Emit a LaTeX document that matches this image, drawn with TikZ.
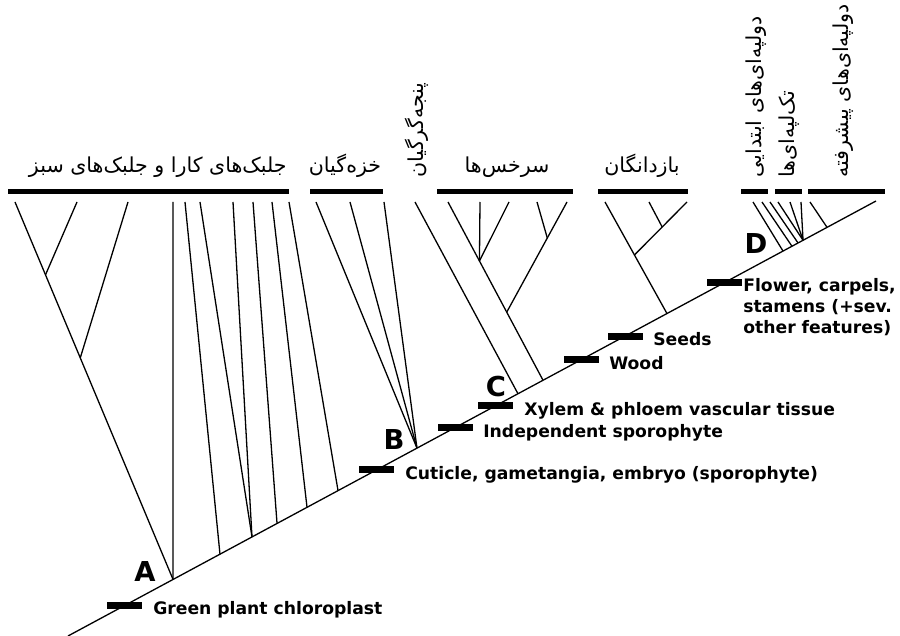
\documentclass[tikz,border=0pt]{standalone}
\usepackage{fontspec}
\setmainfont{DejaVu Sans}
\newfontfamily\farsi[Script=Arabic]{DejaVu Sans}
\TeXXeTstate=1
\usetikzlibrary{positioning}

\begin{document}
\begin{tikzpicture}[x=0.5pt, y=-0.5pt,
    branch/.style={line width=0.65pt},
    cladebar/.style={fill=black, inner sep=0pt, minimum height=2.5pt},
    traitbar/.style={fill=black, inner sep=0pt, minimum width=17.5pt, minimum height=3.5pt},
    trait/.style={font=\bfseries\fontsize{8.6}{10.5}\selectfont, inner sep=0pt,
                  anchor=base west, align=left},
    cladeltr/.style={font=\bfseries\fontsize{13.7}{14}\selectfont, inner sep=0pt},
    fa/.style={font=\farsi\fontsize{10.3}{10.3}\selectfont, inner sep=0pt, anchor=base},
    favert/.style={fa, rotate=90, anchor=base west}
  ]
  \useasboundingbox (0,0) rectangle (900,636);

  % ===== Trunk with clade bases and trait marks =====
  \coordinate (root) at (68,636);
  \coordinate (apex) at (876,201);
  \draw[branch] (root) -- (apex)
    coordinate[pos=0.0705] (chl) coordinate[pos=0.1300] (A)
    coordinate[pos=0.1881] (k1)  coordinate[pos=0.2277] (k2)
    coordinate[pos=0.2587] (k3)  coordinate[pos=0.2958] (k4)
    coordinate[pos=0.3342] (k5)  coordinate[pos=0.3824] (cut)
    coordinate[pos=0.4319] (B)   coordinate[pos=0.4790] (ind)
    coordinate[pos=0.5297] (xyl) coordinate[pos=0.5569] (C)
    coordinate[pos=0.5879] (fern) coordinate[pos=0.6349] (wod)
    coordinate[pos=0.6894] (sed) coordinate[pos=0.7413] (gym)
    coordinate[pos=0.8119] (flw) coordinate[pos=0.8849] (m1)
    coordinate[pos=0.8960] (m2)  coordinate[pos=0.9035] (m3)
    coordinate[pos=0.9097] (D)   coordinate[pos=0.9394] (eu);

  % ===== Tips of the branches =====
  \foreach \n/\x in {g1/15, g2/77, g3/128, g4/173, c1/185, c2/200, c3/233, c4/253,
                     c5/272, c6/289, b1/316, b2/350, b3/384, lyc/415, p1/448, p2/480,
                     p3/509, p4/537, p5/567, s1/605, s2/649, s3/687, e1/753, e2/762,
                     e3/770, e4/778, e5/790, e6/801, e7/810}
    \coordinate (\n) at (\x,202);

  % green algae
  \draw[branch] (A) -- (g1) coordinate[pos=0.587] (a1) coordinate[pos=0.807] (a2);
  \draw[branch] (a2) -- (g2);
  \draw[branch] (a1) -- (g3);
  \draw[branch] (A) -- (g4);
  \foreach \k/\t in {k1/c1, k2/c2, k2/c3, k3/c4, k4/c5, k5/c6}
    \draw[branch] (\k) -- (\t);

  % mosses and club mosses
  \foreach \t in {b1, b2, b3}
    \draw[branch] (B) -- (\t);
  \draw[branch] (C) -- (lyc);

  % ferns
  \draw[branch] (fern) -- (p1) coordinate[pos=0.382] (f1) coordinate[pos=0.669] (f2);
  \draw[branch] (f2) -- (p2);
  \draw[branch] (f2) -- (p3);
  \draw[branch] (f1) -- (p5) coordinate[pos=0.673] (f3);
  \draw[branch] (f3) -- (p4);

  % gymnosperms
  \draw[branch] (gym) -- (s1) coordinate[pos=0.525] (h1);
  \draw[branch] (h1) -- (s3) coordinate[pos=0.528] (h2);
  \draw[branch] (h2) -- (s2);

  % flowering plants
  \draw[branch] (m1) -- (e1);
  \draw[branch] (m2) -- (e2);
  \draw[branch] (m3) -- (e3);
  \foreach \t in {e4, e5, e6}
    \draw[branch] (D) -- (\t);
  \draw[branch] (eu) -- (e7);

  % ===== Group bars and names =====
  \node[cladebar, minimum width=140.5pt] (algbar) at (148.5,192) {};
  \node[cladebar, minimum width=36.5pt] (mossbar) at (346.5,192) {};
  \node[cladebar, minimum width=68pt] (fernbar) at (505,192) {};
  \node[cladebar, minimum width=45pt] (gymbar) at (643,192) {};
  \node[cladebar, minimum width=13.5pt] (basbar) at (754.5,192) {};
  \node[cladebar, minimum width=13.5pt] (monbar) at (788.5,192) {};
  \node[cladebar, minimum width=38.5pt] (eubar) at (846.5,192) {};

  \node[fa, anchor=base east] (alglbl) at (287,173) {\beginR جلبک^^^^200cهای کارا و جلبک^^^^200cهای سبز\endR};
  \node[fa] (mosslbl) at (345,173) {\beginR خزه^^^^200cگیان\endR};
  \node[fa] (fernlbl) at (507,173) {\beginR سرخس^^^^200cها\endR};
  \node[fa] (gymlbl) at (642,173) {\beginR بازدانگان\endR};
  \node[favert] (lyclbl) at (423,178) {\beginR پنجه^^^^200cگرگیان\endR};
  \node[favert] (baslbl) at (761,178) {\beginR دولپه^^^^200cای^^^^200cهای ابتدایی\endR};
  \node[favert] (monlbl) at (794,178) {\beginR تک^^^^200cلپه^^^^200cای^^^^200cها\endR};
  \node[favert] (eulbl) at (848,178) {\beginR دولپه^^^^200cای^^^^200cهای پیشرفته\endR};

  % ===== Clade letters =====
  \node[cladeltr] (Altr) at (145,572) {A};
  \node[cladeltr] (Bltr) at (394,440) {B};
  \node[cladeltr] (Cltr) at (496,387) {C};
  \node[cladeltr] (Dltr) at (756,244) {D};

  % ===== Trait marks =====
  \foreach \p/\txt in {chl/Green plant chloroplast,
                       cut/{Cuticle, gametangia, embryo (sporophyte)},
                       ind/Independent sporophyte,
                       xyl/Xylem \& phloem vascular tissue,
                       wod/Wood, sed/Seeds}{
    \node[traitbar] (\p bar) at (\p) {};
    \node[trait] (\p txt) at ([xshift=5pt, yshift=-4.75pt]\p bar.east) {\txt};
  }
  \node[traitbar] (flwbar) at (flw) {};
  % base anchor of a multi-line node sits on its last line
  \node[trait] (flwtxt) at ([xshift=0.5pt, yshift=-25.5pt]flwbar.east)
    {Flower, carpels,\\stamens (+sev.\\other features)};
\end{tikzpicture}
\end{document}
